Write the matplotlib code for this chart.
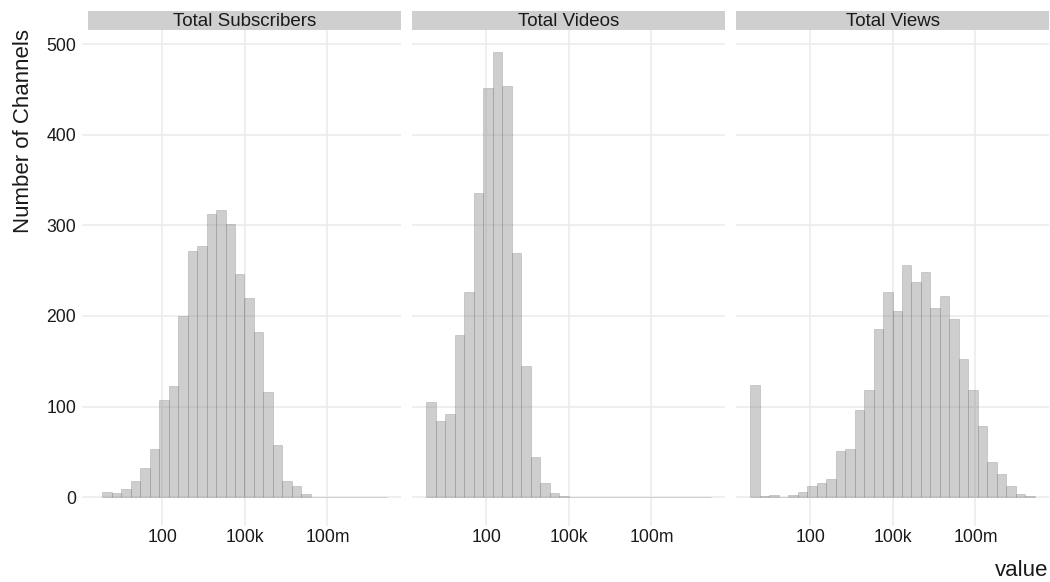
import numpy as np
import matplotlib
matplotlib.use("Agg")
import matplotlib.pyplot as plt
from matplotlib.ticker import FixedLocator, FixedFormatter, NullLocator

plt.rcParams["font.family"] = ["Liberation Sans", "DejaVu Sans"]

# Facet titles and per-bin channel counts (30 bins on a log10 scale)
panels = ["Total Subscribers", "Total Videos", "Total Views"]
subscribers = [6, 5, 9, 18, 32, 53, 107, 123, 200, 272, 277, 312, 317, 301, 246,
               220, 182, 116, 58, 18, 12, 4, 0, 0, 0, 0, 0, 0, 0, 0]
videos = [105, 84, 92, 179, 226, 336, 452, 491, 454, 270, 145, 44, 16, 5, 1,
          0, 0, 0, 0, 0, 0, 0, 0, 0, 0, 0, 0, 0, 0, 0]
views = [124, 1, 3, 0, 3, 6, 12, 16, 20, 51, 53, 96, 118, 186, 226,
         205, 256, 238, 249, 209, 222, 197, 152, 118, 79, 39, 26, 12, 4, 1]
counts = [subscribers, videos, views]

# Range of log10(value) across all channels; bins are centred on the extremes
log10_min, log10_max = 0.0, 9.98
n_bins = 30

x_breaks = [1e2, 1e5, 1e8]
x_labels = ["100", "100k", "100m"]
y_breaks = [0, 100, 200, 300, 400, 500]

W, H = 1050, 582
fig = plt.figure(figsize=(W / 100, H / 100), dpi=100)

bw = (log10_max - log10_min) / (n_bins - 1)
edges = log10_min - bw / 2 + bw * np.arange(n_bins + 1)
span = edges[-1] - edges[0]
xlo, xhi = edges[0] - 0.05 * span, edges[-1] + 0.05 * span
ymax = max(max(c) for c in counts)
ylo, yhi = -0.05 * ymax, 1.05 * ymax

grid_col = "#EBEBEB"
text_col = "#1A1A1A"
px = 72 / 100  # points per pixel

panel_left = [88, 412, 736]
panel_w = 313
panel_top, panel_bot = 30, 519.5
strip_top = 11

for i, (name, c) in enumerate(zip(panels, counts)):
    l = panel_left[i]
    ax = fig.add_axes([l / W, 1 - panel_bot / H, panel_w / W, (panel_bot - panel_top) / H])
    ax.set_xscale("log")
    ax.set_xlim(10 ** xlo, 10 ** xhi)
    ax.set_ylim(ylo, yhi)
    left = 10 ** edges[:-1]
    widths = 10 ** edges[1:] - left
    ax.bar(left, c, width=widths, align="edge",
           facecolor=(0.5, 0.5, 0.5, 0.38),
           edgecolor=(0.4, 0.4, 0.4, 0.28), linewidth=0.6, zorder=3)
    for s in ax.spines.values():
        s.set_visible(False)
    ax.set_facecolor("none")
    ax.xaxis.set_major_locator(FixedLocator(x_breaks))
    ax.xaxis.set_major_formatter(FixedFormatter(x_labels))
    ax.xaxis.set_minor_locator(NullLocator())
    ax.yaxis.set_major_locator(FixedLocator(y_breaks))
    ax.grid(True, which="major", color=grid_col, linewidth=1.1, zorder=0)
    ax.set_axisbelow(True)
    ax.tick_params(axis="x", length=6 * px, width=1.1, color=grid_col,
                   labelsize=12.7, labelcolor=text_col, pad=4 * px)
    if i == 0:
        ax.tick_params(axis="y", length=6 * px, width=1.1, color=grid_col,
                       labelsize=12.7, labelcolor=text_col, pad=6 * px)
    else:
        ax.tick_params(axis="y", length=0, labelleft=False)

    sax = fig.add_axes([l / W, 1 - panel_top / H, panel_w / W, (panel_top - strip_top) / H])
    sax.set_facecolor("#CFCFCF")
    sax.set_xticks([])
    sax.set_yticks([])
    for s in sax.spines.values():
        s.set_visible(False)
    sax.text(0.5, 0.47, name, transform=sax.transAxes, ha="center", va="center",
             fontsize=13.5, color=text_col)

fig.text(24 / W, 1 - 29 / H, "Number of Channels", rotation=90, ha="center", va="top",
         fontsize=16, color=text_col)
fig.text(1048 / W, 1 - 571 / H, "value", ha="right", va="center",
         fontsize=16, color=text_col)

fig.savefig("out.png", dpi=100)
